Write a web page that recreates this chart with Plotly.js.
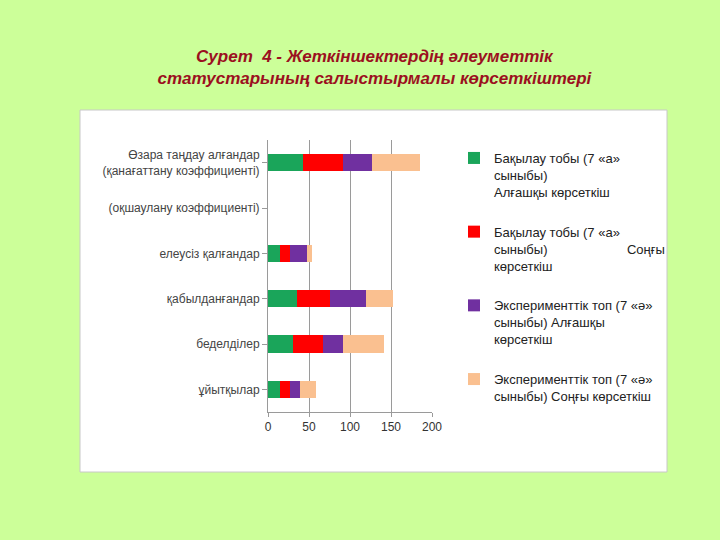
<!DOCTYPE html>
<html><head><meta charset="utf-8">
<script src="https://cdn.plot.ly/plotly-3.0.1.min.js"></script>
<style>body{margin:0;background:#ccff99}</style>
</head><body>
<div id="chart" style="width:720px;height:540px"></div>
<script>
const categories = [
  "ұйытқылар",
  "беделділер",
  "қабылданғандар",
  "елеусіз қалғандар",
  "(оқшаулану коэффициенті)",
  "Өзара таңдау алғандар<br>(қанағаттану коэффициенті)"
];
const seriesNames = [
  "Бақылау тобы (7 «а»<br>сыныбы)<br>Алғашқы көрсеткіш",
  "Бақылау тобы (7 «а»<br>сыныбы)                      Соңғы<br>көрсеткіш",
  "Эксперименттік топ (7 «ә»<br>сыныбы) Алғашқы<br>көрсеткіш",
  "Эксперименттік топ (7 «ә»<br>сыныбы) Соңғы көрсеткіш"
];
const controlStart = [15, 31, 35, 15, 0, 43];
const controlEnd   = [12, 36, 40, 12, 0, 48];
const expStart     = [12, 24, 44, 21, 0, 36];
const expEnd       = [19, 50, 34, 6, 0, 58];
const colors = ["#1aa55a", "#ff0000", "#7030a0", "#fac090"];
const xTicks = [0, 50, 100, 150, 200];

const values = [controlStart, controlEnd, expStart, expEnd];
const traces = values.map((v, i) => ({
  type: "bar",
  orientation: "h",
  y: categories,
  x: v,
  name: seriesNames[i],
  legendgroup: "g" + i,
  marker: {color: colors[i], line: {width: 0}},
  hoverinfo: "x+name"
}));

const layout = {
  width: 720, height: 540,
  paper_bgcolor: "#ccff99",
  plot_bgcolor: "rgba(0,0,0,0)",
  margin: {l: 0, r: 0, t: 0, b: 0},
  barmode: "stack",
  bargap: 0.62,
  title: {
    text: "<b><i>Сурет  4 - Жеткіншектердің әлеуметтік<br>статустарының салыстырмалы көрсеткіштері</i></b>",
    font: {family: "Liberation Sans, Arial, sans-serif", size: 17, color: "#9b1020"},
    x: 0.52, xanchor: "center", y: 1 - 62/540, yanchor: "middle"
  },
  shapes: [{
    type: "rect", xref: "paper", yref: "paper",
    x0: 80/720, x1: 667/720, y0: (540-472)/540, y1: (540-110)/540,
    fillcolor: "#ffffff", line: {color: "#c8c8c8", width: 1}, layer: "below"
  }],
  xaxis: {
    domain: [268/720, 432/720],
    range: [0, 200],
    tickvals: xTicks,
    ticktext: xTicks.map(String),
    showgrid: true, gridcolor: "#9a9a9a", gridwidth: 1,
    zeroline: false,
    showline: true, linecolor: "#9a9a9a",
    ticks: "outside", ticklen: 4, tickcolor: "#9a9a9a",
    tickfont: {family: "Liberation Sans, Arial, sans-serif", size: 12, color: "#333"},
    anchor: "y"
  },
  yaxis: {
    domain: [(540-412)/540, (540-140)/540],
    showgrid: false, zeroline: false,
    showline: true, linecolor: "#9a9a9a",
    ticks: "outside", ticklen: 5, tickcolor: "#9a9a9a",
    tickfont: {family: "Liberation Sans, Arial, sans-serif", size: 12, color: "#444"},
    automargin: false
  },
  legend: {
    x: 454/720, y: (540-143)/540, xanchor: "left", yanchor: "top",
    bgcolor: "rgba(0,0,0,0)",
    font: {family: "Liberation Sans, Arial, sans-serif", size: 13, color: "#222"},
    tracegroupgap: 20, traceorder: "grouped",
    itemwidth: 30, valign: "top"
  },
  showlegend: true
};

Plotly.newPlot("chart", traces, layout, {displayModeBar: false, staticPlot: true});
</script>
</body></html>
